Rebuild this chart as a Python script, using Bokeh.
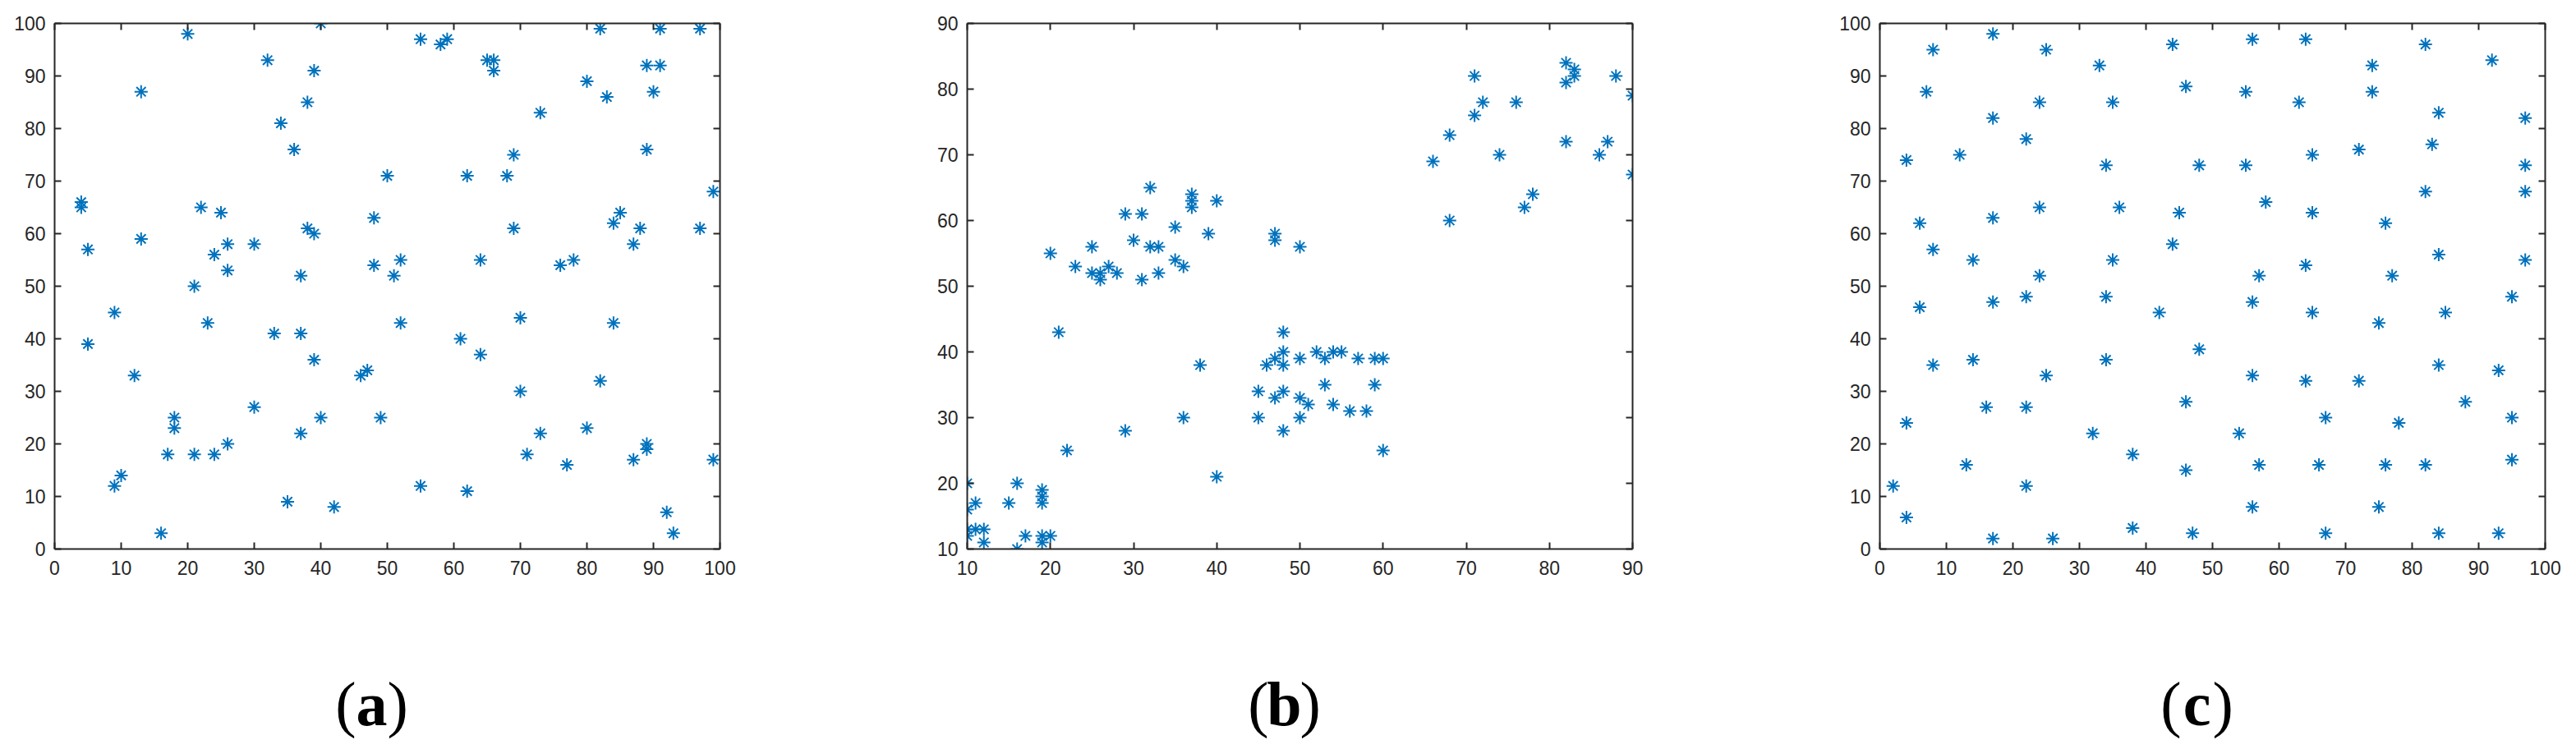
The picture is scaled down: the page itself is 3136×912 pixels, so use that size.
from bokeh.plotting import figure
from bokeh.layouts import row, column
from bokeh.models import Range1d, LinearAxis, SingleIntervalTicker, Label, CustomLabelingPolicy
from bokeh.embed import file_html
from bokeh.resources import INLINE

# ---------------- data ----------------
a_x = [20, 40, 32, 39, 13, 38, 34, 36, 50, 4, 4, 22, 25, 48, 38, 39, 13, 5, 26, 30, 24, 52, 26, 48, 37, 51,
       21, 9, 23, 52, 33, 37, 5, 39, 46, 47, 12, 30, 18, 18, 40, 49, 37, 26, 17, 21, 24, 10, 9, 35, 42, 16,
       55, 58, 59, 65, 66, 66, 82, 91, 97, 89, 91, 80, 90, 83, 73, 89, 69, 62, 68, 99, 85, 84, 88, 69, 97,
       87, 64, 76, 78, 70, 84, 61, 64, 82, 70, 73, 80, 71, 77, 87, 89, 89, 99, 55, 62, 92, 93]
a_y = [98, 100, 93, 91, 87, 85, 81, 76, 71, 66, 65, 65, 64, 63, 61, 60, 59, 57, 58, 58, 56, 55, 53, 54, 52, 52,
       50, 45, 43, 43, 41, 41, 39, 36, 33, 34, 33, 27, 25, 23, 25, 25, 22, 20, 18, 18, 18, 14, 12, 9, 8, 3,
       97, 96, 97, 93, 93, 91, 99, 99, 99, 92, 92, 89, 87, 86, 83, 76, 75, 71, 71, 68, 64, 62, 61, 61, 61,
       58, 55, 54, 55, 44, 43, 40, 37, 32, 30, 22, 23, 18, 16, 17, 20, 19, 17, 12, 11, 7, 3]

b_x = [32, 37, 37, 37, 40, 29, 31, 35, 39, 30, 25, 32, 33, 20, 35, 23, 27, 36, 25, 26, 28, 33, 26, 31,
       47, 47, 50, 21, 48, 48, 47, 50, 38, 46, 48, 45, 48, 47, 50, 36, 45, 50, 29, 48, 22, 40, 10, 16,
       19, 19, 19, 11, 15, 10, 10, 11, 12, 10, 17, 19, 20, 12, 19, 16,
       82, 83, 83, 82, 71, 88, 90, 72, 76, 71, 68, 82, 87, 74, 86, 66, 90, 78, 77, 68,
       52, 53, 54, 55, 57, 59, 60, 53, 59, 51, 54, 56, 58, 60]
b_y = [65, 64, 63, 62, 63, 61, 61, 59, 58, 57, 56, 56, 56, 55, 54, 53, 53, 53, 52, 52, 52, 52, 51, 51,
       58, 57, 56, 43, 43, 40, 39, 39, 38, 38, 38, 34, 34, 33, 33, 30, 30, 30, 28, 28, 25, 21, 20, 20,
       19, 18, 17, 17, 17, 16, 13, 13, 13, 12, 12, 12, 12, 11, 11, 10,
       84, 83, 82, 81, 82, 82, 79, 78, 78, 76, 73, 72, 72, 70, 70, 69, 67, 64, 62, 60,
       40, 39, 40, 40, 39, 39, 39, 35, 35, 32, 32, 31, 31, 25]

c_x = [17, 8, 25, 44, 33, 7, 46, 24, 35, 17, 22, 12, 4, 34, 48, 24, 36, 45, 17, 6, 44, 8, 14, 35, 24,
       22, 34, 17, 6, 42, 48, 8, 14, 34, 25, 46, 16, 22, 4, 32, 38, 13, 46, 2, 22, 4, 38, 47, 17, 26,
       56, 64, 82, 92, 74, 55, 74, 63, 84, 97, 72, 83, 65, 55, 97, 82, 97, 58, 65, 76, 84, 97, 64, 57,
       77, 95, 56, 65, 85, 75, 84, 93, 56, 64, 72, 88, 67, 95, 78, 54, 95, 57, 66, 76, 82, 56, 75, 67, 84, 93]
c_y = [98, 95, 95, 96, 92, 87, 88, 85, 85, 82, 78, 75, 74, 73, 73, 65, 65, 64, 63, 62, 58, 57, 55, 55, 52,
       48, 48, 47, 46, 45, 38, 35, 36, 36, 33, 28, 27, 27, 24, 22, 18, 16, 15, 12, 12, 6, 4, 3, 2, 2,
       97, 97, 96, 93, 92, 87, 87, 85, 83, 82, 76, 77, 75, 73, 73, 68, 68, 66, 64, 62, 56, 55, 54, 52,
       52, 48, 47, 45, 45, 43, 35, 34, 33, 32, 32, 28, 25, 25, 24, 22, 17, 16, 16, 16, 16, 8, 8, 3, 3, 3]

panel_labels = ["a", "b", "c"]
x_ranges = [(0, 100), (10, 90), (0, 100)]
y_ranges = [(0, 100), (10, 90), (0, 100)]

# ---------------- style ----------------
AX = "#262626"
BLUE = "#0072BD"
FW, FH = 810, 640
LEFT, TOP, BOTTOM = 66, 28, 50
PANEL_W = 1111
LAST_RIGHT = 30
LABEL_H = 912 - (TOP + FH + BOTTOM)
TICK_FONT = "Liberation Sans"
TICK_SIZE = "23px"

NO_LABELS = CustomLabelingPolicy(code="""
try { for (let i = 0; i < indices.size; i++) { indices.unset(i) } } catch (e) {}
return indices
""")


def style_axis(ax, show_labels):
    ax.ticker = SingleIntervalTicker(interval=10, num_minor_ticks=0)
    ax.axis_line_color = AX
    ax.axis_line_width = 2
    ax.major_tick_line_color = AX
    ax.major_tick_line_width = 2
    ax.major_tick_in = 8
    ax.major_tick_out = 0
    ax.minor_tick_line_color = None
    ax.major_label_text_color = AX
    ax.major_label_text_font = TICK_FONT
    if show_labels:
        ax.major_label_text_font_size = TICK_SIZE
    else:
        ax.major_label_policy = NO_LABELS
        ax.major_label_text_font_size = "0px"
        ax.major_label_standoff = 0


def make_panel(xs, ys, xr, yr, right_border):
    p = figure(output_backend="svg", toolbar_location=None,
               frame_width=FW, frame_height=FH,
               x_range=Range1d(*xr), y_range=Range1d(*yr),
               min_border_left=LEFT, min_border_right=right_border,
               min_border_top=TOP, min_border_bottom=BOTTOM)
    p.outline_line_color = None
    p.xgrid.visible = False
    p.ygrid.visible = False
    p.background_fill_color = "white"
    p.border_fill_color = "white"

    style_axis(p.xaxis[0], True)
    style_axis(p.yaxis[0], True)
    p.xaxis[0].major_label_standoff = 14
    p.yaxis[0].major_label_standoff = 11

    top = LinearAxis()
    style_axis(top, False)
    p.add_layout(top, "above")
    right = LinearAxis()
    style_axis(right, False)
    p.add_layout(right, "right")

    p.scatter(xs, ys, marker="asterisk", size=16, line_color=BLUE, line_width=2)
    return p


def make_label(letter, width):
    q = figure(output_backend="svg", toolbar_location=None, title=None,
               width=width, height=LABEL_H,
               x_range=Range1d(0, width), y_range=Range1d(0, LABEL_H),
               x_axis_location=None, y_axis_location=None, min_border=0)
    q.outline_line_color = None
    q.xgrid.visible = False
    q.ygrid.visible = False
    q.border_fill_color = "white"
    q.background_fill_color = "white"
    fs = 76
    cx = LEFT + 386
    # vertical centre of the text box (baseline of the reference text is at y=882)
    my = LABEL_H - (856 - (TOP + FH + BOTTOM))
    half = 0.25 * fs
    common = dict(y=my, text_font="Liberation Serif", text_font_size=f"{fs}px",
                  text_baseline="middle", text_color="black")
    q.add_layout(Label(x=cx - half, text="(", text_align="right", **common))
    q.add_layout(Label(x=cx, text=letter, text_align="center", text_font_style="bold", **common))
    q.add_layout(Label(x=cx + half, text=")", text_align="left", **common))
    return q


pa = make_panel(a_x, a_y, x_ranges[0], y_ranges[0], PANEL_W - LEFT - FW)
pb = make_panel(b_x, b_y, x_ranges[1], y_ranges[1], PANEL_W - LEFT - FW)
pc = make_panel(c_x, c_y, x_ranges[2], y_ranges[2], LAST_RIGHT)
last_w = LEFT + FW + LAST_RIGHT

la = make_label(panel_labels[0], PANEL_W)
lb = make_label(panel_labels[1], PANEL_W)
lc = make_label(panel_labels[2], last_w)

layout = column(row(pa, pb, pc), row(la, lb, lc))
open("out.html", "w").write(file_html(layout, INLINE))
